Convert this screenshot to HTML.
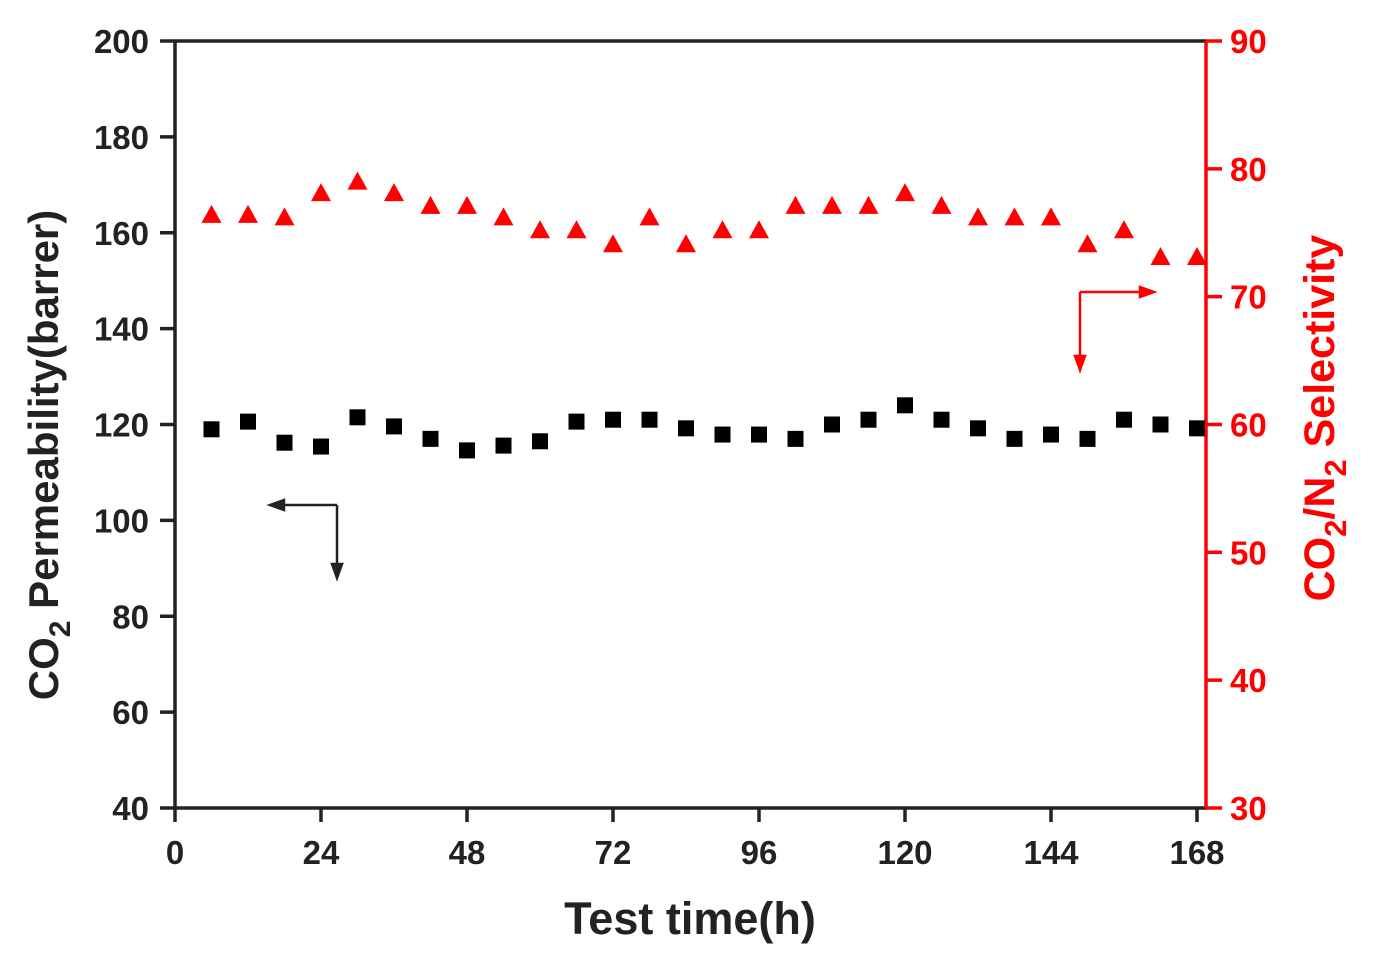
<!DOCTYPE html>
<html><head><meta charset="utf-8"><style>
body{margin:0;background:#fff}
svg{display:block;font-family:"Liberation Sans",Arial,sans-serif;font-weight:bold}
</style></head><body>
<svg id="chart" width="1376" height="965">
<g id="axes"></g><g id="marks"></g>
</svg>
<script>
const hours=[6,12,18,24,30,36,42,48,54,60,66,72,78,84,90,96,102,108,114,120,126,132,138,144,150,156,162,168];
const permeability=[119,120.6,116.2,115.4,121.5,119.6,117,114.6,115.6,116.5,120.6,121,121,119.2,117.9,117.9,117,120,121,124,121,119.2,117,117.9,117,121,120,119.2];
const selectivity=[76.4,76.4,76.2,78.1,79,78.1,77.1,77.1,76.2,75.2,75.2,74.1,76.2,74.1,75.2,75.2,77.1,77.1,77.1,78.1,77.1,76.2,76.2,76.2,74.1,75.2,73.1,73.1];
const xTicks=[0,24,48,72,96,120,144,168];
const leftTicks=[40,60,80,100,120,140,160,180,200];
const rightTicks=[30,40,50,60,70,80,90];
const L=175,R=1206,T=41,B=808;
const X=v=>L+(v/168)*(1197-L);
const YL=v=>B-(v-40)/160*(B-T);
const YR=v=>B-(v-30)/60*(B-T);
const NS='http://www.w3.org/2000/svg';
const ax=document.getElementById('axes'),mk=document.getElementById('marks');
function el(t,a,p,txt){const e=document.createElementNS(NS,t);for(const k in a)e.setAttribute(k,a[k]);if(txt!==undefined)e.textContent=txt;p.appendChild(e);return e;}
let e;
e=el('line',{x1:L,y1:T,x2:R,y2:T,stroke:'#222','stroke-width':3.5},ax);


e=el('line',{x1:L,y1:T,x2:L,y2:B,stroke:'#222','stroke-width':3.5},ax);


e=el('line',{x1:L,y1:B,x2:R,y2:B,stroke:'#222','stroke-width':3.5},ax);


e=el('line',{x1:R,y1:T,x2:R,y2:B,stroke:'#f00','stroke-width':3.5},ax);


leftTicks.forEach(v=>{const y=YL(v);
 el('line',{x1:L-15,y1:y,x2:L,y2:y,stroke:'#222','stroke-width':3.5},ax);
 e=el('text',{x:149,y:y+12,'text-anchor':'end','font-size':33,fill:'#222'},ax,v);
 
 });
rightTicks.forEach(v=>{const y=YR(v);
 el('line',{x1:R,y1:y,x2:R+16,y2:y,stroke:'#f00','stroke-width':3.5},ax);
 e=el('text',{x:1230,y:y+12,'text-anchor':'start','font-size':33,fill:'#f00'},ax,v);
 
 });
xTicks.forEach(v=>{const x=X(v);
 el('line',{x1:x,y1:B,x2:x,y2:B+14,stroke:'#222','stroke-width':3.5},ax);
 e=el('text',{x:x,y:864,'text-anchor':'middle','font-size':33,fill:'#222'},ax,v);
 
 });
hours.forEach((h,i)=>{
 e=el('rect',{x:X(h)-8,y:YL(permeability[i])-8,width:16,height:16,fill:'#000'},mk);
 
 
 const x=X(h),y=YR(selectivity[i]);
 e=el('polygon',{points:`${x-10},${y+8} ${x+10},${y+8} ${x},${y-10}`,fill:'#f00'},mk);
 
 
});
</script>
<svg style="position:absolute;left:0;top:0" width="1376" height="965">
<g stroke="#222" stroke-width="2.5" fill="#222">
<line x1="337" y1="505" x2="280" y2="505"/><polygon points="270,505 284,500 284,510"/>
<line x1="337" y1="505" x2="337" y2="566"/><polygon points="337,578 332,564 342,564"/>
</g>
<g stroke="#f00" stroke-width="2.5" fill="#f00">
<line x1="1080" y1="292" x2="1142" y2="292"/><polygon points="1154,292 1140,287 1140,297"/>
<line x1="1080" y1="292" x2="1080" y2="358"/><polygon points="1080,370 1075,356 1085,356"/>
</g>
<text x="690" y="934" text-anchor="middle" font-size="45" font-weight="bold" font-family="Liberation Sans,sans-serif" fill="#222">Test time(h)</text>
<text transform="translate(58,455) rotate(-90)" text-anchor="middle" font-size="42" font-weight="bold" font-family="Liberation Sans,sans-serif" fill="#222">CO<tspan font-size="30" dy="12">2</tspan><tspan dy="-12"> Permeability(barrer)</tspan></text>
<text transform="translate(1334,418) rotate(-90)" text-anchor="middle" font-size="43" font-weight="bold" font-family="Liberation Sans,sans-serif" fill="#f00">CO<tspan font-size="31" dy="12">2</tspan><tspan dy="-12">/N</tspan><tspan font-size="31" dy="12">2</tspan><tspan dy="-12"> Selectivity</tspan></text>
</svg>
</body></html>
